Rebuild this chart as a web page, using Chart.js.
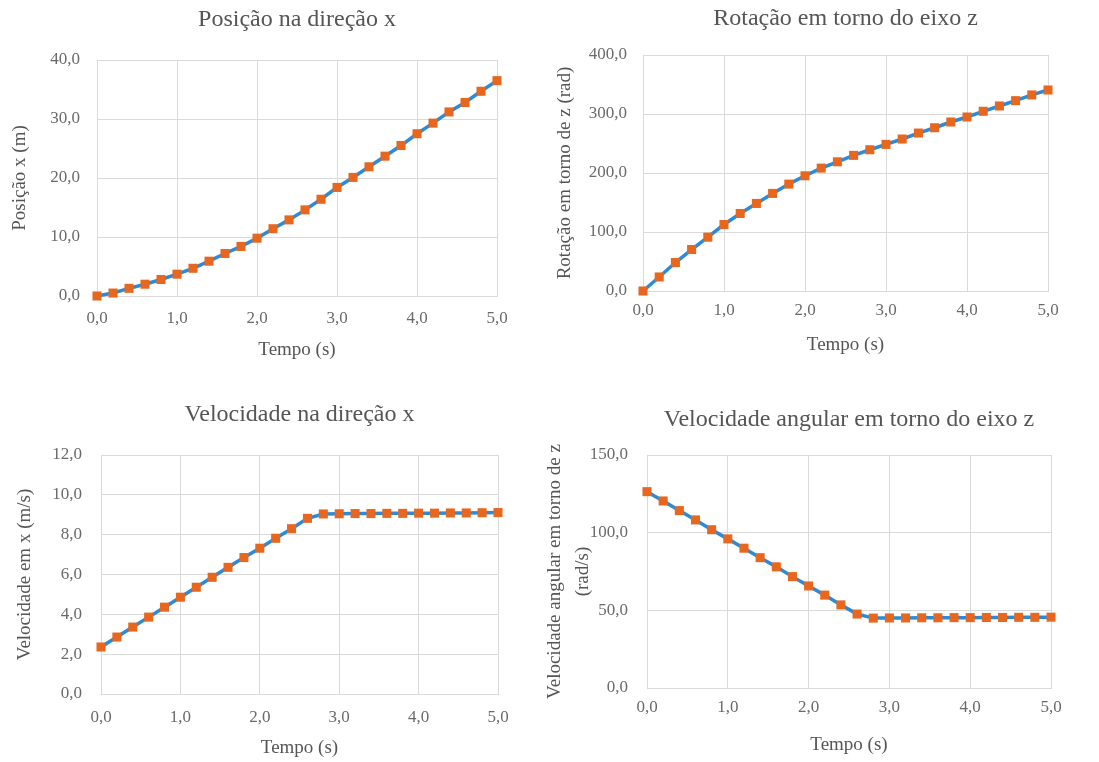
<!DOCTYPE html>
<html>
<head>
<meta charset="utf-8">
<script src="https://cdn.jsdelivr.net/npm/chart.js@4.4.1/dist/chart.umd.min.js"></script>
<style>
html,body{margin:0;padding:0;background:#fff;overflow:hidden;width:1099px;height:762px;}
canvas{position:absolute;}
</style>
</head>
<body>
<canvas id="c1"></canvas>
<canvas id="c2"></canvas>
<canvas id="c3"></canvas>
<canvas id="c4"></canvas>
<script>
// ---- data ----
const tempo = [0.0,0.2,0.4,0.6,0.8,1.0,1.2,1.4,1.6,1.8,2.0,2.2,2.4,2.6,2.8,3.0,3.2,3.4,3.6,3.8,4.0,4.2,4.4,4.6,4.8,5.0];
const posicaoX = [0.0,0.5,1.3,2.0,2.8,3.7,4.7,5.9,7.2,8.4,9.8,11.4,12.9,14.6,16.4,18.4,20.1,21.9,23.7,25.5,27.5,29.3,31.2,32.8,34.7,36.5];
const rotacaoZ = [0.0,23.8,48.2,70.3,91.2,112.7,131.4,148.4,165.4,181.2,195.3,208.3,219.0,229.9,239.4,248.5,257.6,267.7,276.7,286.4,294.9,304.6,313.6,322.6,332.3,340.7];
const velocidadeX = [2.36,2.86,3.36,3.86,4.36,4.86,5.36,5.86,6.36,6.85,7.32,7.82,8.30,8.82,9.04,9.05,9.06,9.06,9.07,9.07,9.08,9.08,9.09,9.09,9.10,9.11];
const velocidadeAngZ = [126.4,120.4,114.2,108.2,101.9,96.0,90.0,83.9,78.0,71.7,65.7,59.8,53.5,47.6,45.0,45.1,45.1,45.2,45.2,45.3,45.3,45.4,45.4,45.5,45.5,45.6];

const titulos = ['Posição na direção x','Rotação em torno do eixo z','Velocidade na direção x','Velocidade angular em torno do eixo z'];
const titulosY = ['Posição x (m)','Rotação em torno de z (rad)','Velocidade em x (m/s)',['Velocidade angular em torno de z','(rad/s)']];
const tituloX = 'Tempo (s)';
const xRange = [0, 5, 1];
const yRanges = [[0,40,10],[0,400,100],[0,12,2],[0,150,50]];

// ---- styling ----
const FONT = "'Liberation Serif', 'Times New Roman', serif";
const BLUE = '#2B8BD8';
const ORANGE = '#E8671E';
const GRID = '#dadada';
const TXT = '#555555';
const TICK = '#6a6a6a';
const fmt = v => Number(v).toFixed(1).replace('.', ',');

function build(id, box, plot, spec) {
  const cv = document.getElementById(id);
  cv.width = box.w; cv.height = box.h;
  cv.style.left = box.x + 'px'; cv.style.top = box.y + 'px';
  const tLH = 24 * 1.2;
  const tPadTop = spec.titleY - box.y - tLH / 2;
  const tPadBottom = (plot.T - box.y) - tPadTop - tLH;
  const yLH = spec.yTitleLH || 1.2;
  new Chart(cv, {
    type: 'line',
    data: {
      datasets: [{
        data: tempo.map((t, i) => ({x: t, y: spec.values[i]})),
        borderColor: BLUE,
        borderWidth: 3.5,
        tension: 0,
        pointStyle: 'rect',
        pointRadius: 6.4,
        pointBackgroundColor: ORANGE,
        pointBorderColor: ORANGE,
        pointBorderWidth: 0,
        clip: false
      }]
    },
    options: {
      responsive: false,
      animation: false,
      devicePixelRatio: 1,
      layout: {padding: {left: 0, top: 0, bottom: 0, right: box.x + box.w - plot.R}},
      plugins: {
        legend: {display: false},
        tooltip: {enabled: false},
        title: {
          display: true, fullSize: false, text: spec.title, color: TXT,
          font: {family: FONT, size: 24, weight: 'normal', lineHeight: 1.2},
          padding: {top: tPadTop, bottom: tPadBottom}
        }
      },
      scales: {
        x: {
          type: 'linear', min: xRange[0], max: xRange[1],
          ticks: {stepSize: xRange[2], padding: spec.xTickPad, color: TICK, callback: fmt,
                  font: {family: FONT, size: 17}, maxRotation: 0},
          grid: {color: GRID, drawTicks: false, lineWidth: 1},
          border: {color: GRID},
          title: {display: true, text: tituloX, color: TXT,
                  font: {family: FONT, size: 19, lineHeight: 1.2},
                  padding: {top: 0, bottom: box.y + box.h - spec.xTitleY - 19 * 1.2 / 2}},
          afterFit(s) { s.height = box.y + box.h - plot.B; }
        },
        y: {
          min: spec.yr[0], max: spec.yr[1],
          ticks: {stepSize: spec.yr[2], padding: spec.yTickPad, color: TICK, callback: fmt,
                  font: {family: FONT, size: 17}},
          grid: {color: GRID, drawTicks: false, lineWidth: 1},
          border: {color: GRID},
          title: {display: true, text: spec.yTitle, color: TXT,
                  font: {family: FONT, size: 19, lineHeight: yLH},
                  padding: {top: spec.yTitleX - box.x - 19 * yLH / 2, bottom: 0}},
          afterFit(s) { s.width = plot.L - box.x; }
        }
      }
    }
  });
}

build('c1', {x: 0, y: 0, w: 540, h: 385}, {L: 97, R: 497, T: 60, B: 296},
  {values: posicaoX, title: titulos[0], yTitle: titulosY[0], yr: yRanges[0],
   titleY: 20, xTickPad: 12, yTickPad: 17, xTitleY: 350, yTitleX: 20});
build('c2', {x: 540, y: 0, w: 559, h: 385}, {L: 643, R: 1048, T: 55, B: 291},
  {values: rotacaoZ, title: titulos[1], yTitle: titulosY[1], yr: yRanges[1],
   titleY: 19, xTickPad: 9, yTickPad: 16, xTitleY: 345, yTitleX: 565});
build('c3', {x: 0, y: 385, w: 540, h: 377}, {L: 101, R: 498, T: 455, B: 694},
  {values: velocidadeX, title: titulos[2], yTitle: titulosY[2], yr: yRanges[2],
   titleY: 415, xTickPad: 13, yTickPad: 19, xTitleY: 748, yTitleX: 25});
build('c4', {x: 540, y: 385, w: 559, h: 377}, {L: 647, R: 1051, T: 455, B: 688},
  {values: velocidadeAngZ, title: titulos[3], yTitle: titulosY[3], yr: yRanges[3],
   titleY: 420, xTickPad: 9, yTickPad: 19, xTitleY: 745, yTitleX: 555, yTitleLH: 1.45});
</script>
</body>
</html>
